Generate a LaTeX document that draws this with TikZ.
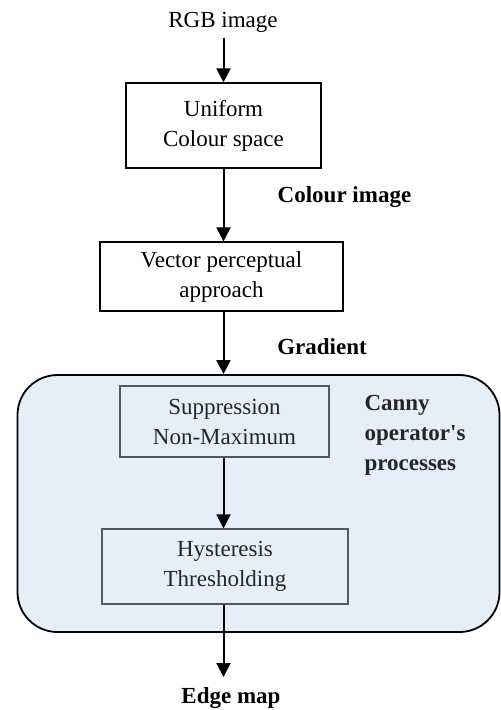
\documentclass[tikz,border=0pt]{standalone}
\usepackage{fontspec}
\setmainfont{Liberation Serif}[Ligatures=TeXOff]
\usetikzlibrary{arrows.meta}
\definecolor{gridblue}{RGB}{230,238,250}
\definecolor{innergray}{RGB}{80,90,100}
\tikzset{
  procbox/.style={draw=black, line width=1.2pt, fill=white, align=center, inner sep=0pt},
  innerbox/.style={draw=innergray, line width=1.2pt, align=center, inner sep=0pt},
  flow/.style={line width=2pt, -{Triangle[length=14pt,width=14pt]}},
  lbl/.style={font=\fontsize{23}{30}\selectfont\bfseries, align=left},
  txt/.style={font=\fontsize{23}{30}\selectfont}
}
\begin{document}
\begin{tikzpicture}[x=1pt,y=-1pt]
\useasboundingbox (0,0) rectangle (501,710);
% group container
\node[draw=black, line width=1.8pt, fill=gridblue, rounded corners=40pt,
      minimum width=482pt, minimum height=257pt, inner sep=0pt] (grp) at (258.5,503.5) {};
\node[txt] (rgb) at (223,22) {RGB image};
\node[procbox, txt, minimum width=195pt, minimum height=85pt] (ucs) at (223.5,125.5) {Uniform\\Colour space};
\node[procbox, txt, minimum width=243pt, minimum height=69pt] (vpa) at (221.5,276.5) {Vector perceptual\\approach};
\node[innerbox, txt, minimum width=209pt, minimum height=71pt, text=black!85] (nms) at (224.5,421.5) {Suppression\\Non-Maximum};
\node[innerbox, txt, minimum width=246pt, minimum height=75pt, text=black!85] (hys) at (225,566.5) {Hysteresis\\Thresholding};
\node[lbl] (cimg) at (344.5,197) {Colour image};
\node[lbl] (grad) at (322,347) {Gradient};
\node[lbl, text=black!85] (canny) at (415,435) {Canny\\operator's\\processes};
\node[lbl] (edge) at (231,698) {Edge map};
\coordinate (edgetip) at (223.5,677);
\draw[flow] (rgb.south -| ucs.north) ++(0,2) -- (ucs.north);
\draw[flow] (ucs.south) -- (vpa.north -| ucs.south);
\draw[flow] (vpa.south -| ucs.south) -- (grp.north -| ucs.south);
\draw[flow] (nms.south -| ucs.south) -- (hys.north -| ucs.south);
\draw[flow] (hys.south -| ucs.south) -- (edgetip);
\end{tikzpicture}
\end{document}
